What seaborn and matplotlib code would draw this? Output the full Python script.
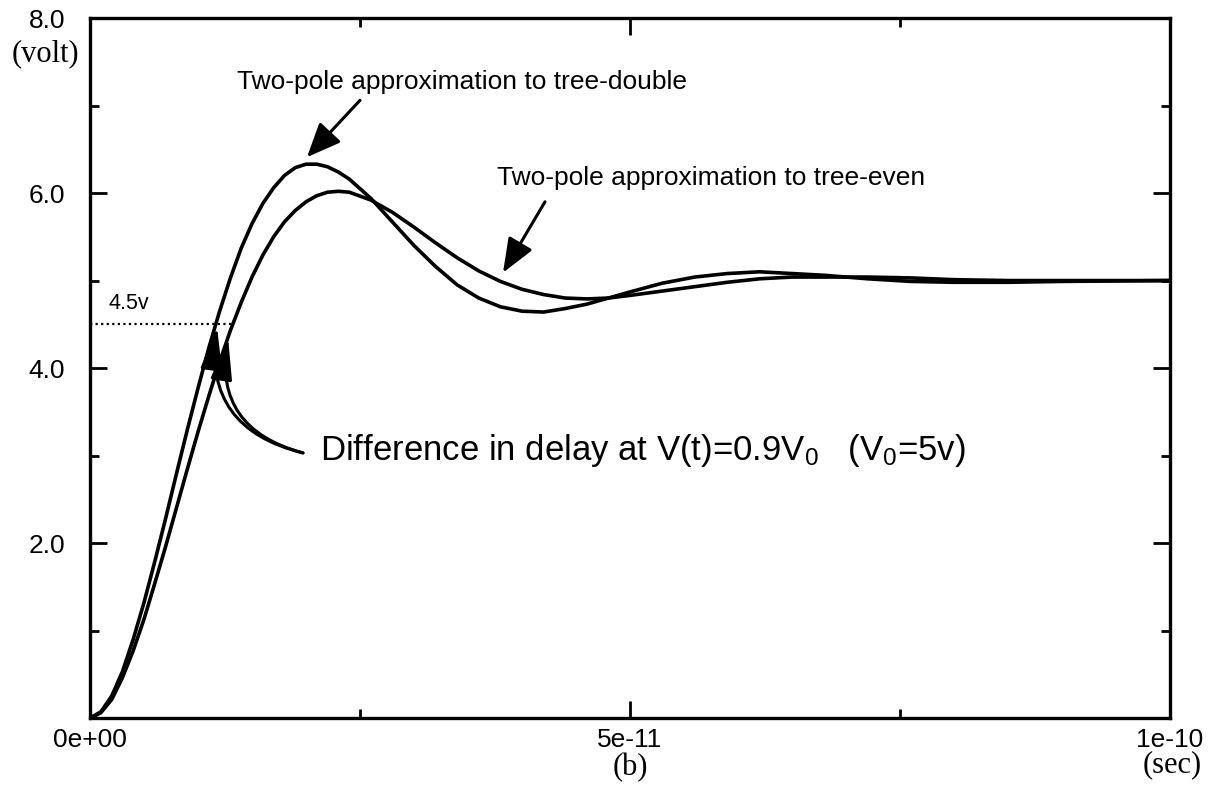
import pandas as pd
import matplotlib.pyplot as plt
import seaborn as sns
from matplotlib.ticker import MultipleLocator

sns.set_theme(style="ticks")
plt.rcParams["font.family"] = ["Liberation Sans", "DejaVu Sans"]
plt.rcParams["mathtext.fontset"] = "custom"
plt.rcParams["mathtext.rm"] = "Liberation Sans"
for key in ["text.color", "axes.labelcolor", "xtick.color", "ytick.color", "axes.edgecolor"]:
    plt.rcParams[key] = "black"

# time in units of 1e-11 s, voltage in volt
t_double = [0.0, 0.1, 0.2, 0.3, 0.4, 0.5, 0.6, 0.7, 0.8, 0.9, 1.0, 1.1, 1.2, 1.3,
            1.4, 1.5, 1.6, 1.7, 1.8, 1.9, 2.0, 2.1, 2.2, 2.3, 2.4, 2.6, 2.8, 3.0,
            3.2, 3.4, 3.6, 3.8, 4.0, 4.2, 4.4, 4.6, 4.8, 5.0, 5.3, 5.6, 5.9, 6.2,
            6.5, 6.8, 7.2, 7.6, 8.0, 8.5, 9.0, 10.0]
v_double = [0.00, 0.07, 0.25, 0.53, 0.90, 1.32, 1.79, 2.28, 2.79, 3.29, 3.77,
            4.23, 4.65, 5.03, 5.37, 5.65, 5.88, 6.06, 6.20, 6.29, 6.33, 6.33,
            6.30, 6.24, 6.16, 5.94, 5.67, 5.40, 5.16, 4.95, 4.80, 4.70, 4.65,
            4.64, 4.68, 4.73, 4.80, 4.87, 4.97, 5.04, 5.08, 5.10, 5.08, 5.06,
            5.02, 4.99, 4.98, 4.98, 4.99, 5.00]

t_even = [0.0, 0.1, 0.2, 0.3, 0.4, 0.5, 0.6, 0.7, 0.8, 0.9, 1.0, 1.1, 1.2, 1.3,
          1.4, 1.5, 1.6, 1.7, 1.8, 1.9, 2.0, 2.1, 2.2, 2.3, 2.4, 2.6, 2.8, 3.0,
          3.2, 3.4, 3.6, 3.8, 4.0, 4.2, 4.4, 4.6, 4.8, 5.0, 5.3, 5.6, 5.9, 6.2,
          6.5, 6.8, 7.2, 7.6, 8.0, 8.5, 9.0, 10.0]
v_even = [0.00, 0.06, 0.21, 0.46, 0.77, 1.13, 1.54, 1.96, 2.40, 2.84, 3.27,
          3.68, 4.07, 4.43, 4.75, 5.04, 5.29, 5.50, 5.67, 5.80, 5.90, 5.97,
          6.01, 6.02, 6.01, 5.92, 5.78, 5.61, 5.43, 5.26, 5.11, 4.99, 4.90,
          4.84, 4.80, 4.79, 4.80, 4.83, 4.88, 4.93, 4.98, 5.02, 5.04, 5.04,
          5.04, 5.03, 5.01, 5.00, 5.00, 5.00]

x_ticks = [0, 5e-11, 1e-10]
x_ticklabels = ["0e+00", "5e-11", "1e-10"]
y_ticks = [0, 2, 4, 6, 8]
y_ticklabels = ["", "2.0", "4.0", "6.0", "8.0"]

df = pd.concat([
    pd.DataFrame({"time": [t * 1e-11 for t in t_double], "volt": v_double, "curve": "tree-double"}),
    pd.DataFrame({"time": [t * 1e-11 for t in t_even], "volt": v_even, "curve": "tree-even"}),
])

fig = plt.figure(figsize=(12.18, 7.92), dpi=100)
ax = fig.add_axes([0.0739, 0.0934, 0.8867, 0.8838])

sns.lineplot(data=df, x="time", y="volt", hue="curve", palette=["black", "black"],
             linewidth=2.6, legend=False, errorbar=None, ax=ax)

ax.set_xlim(0, 1e-10)
ax.set_ylim(0, 8)
ax.set_xticks(x_ticks)
ax.set_xticklabels(x_ticklabels)
ax.set_yticks(y_ticks)
ax.set_yticklabels(y_ticklabels)
ax.xaxis.set_minor_locator(MultipleLocator(2.5e-11))
ax.yaxis.set_minor_locator(MultipleLocator(1))
ax.set_xlabel("")
ax.set_ylabel("")
ax.tick_params(which="both", direction="in", top=True, right=True, width=2)
ax.tick_params(which="major", length=12)
ax.tick_params(which="minor", length=6.5)
ax.tick_params(axis="x", labelsize=19, pad=7)
ax.tick_params(axis="y", labelsize=19, pad=18)
for sp in ax.spines.values():
    sp.set_linewidth(2.4)

serif = ["Liberation Serif", "DejaVu Serif"]
ax.text(-0.0417, 0.9486, "(volt)", transform=ax.transAxes, ha="center", va="center",
        fontsize=22, family=serif)
ax.text(1.002, -0.067, "(sec)", transform=ax.transAxes, ha="center", va="center",
        fontsize=22, family=serif)
ax.text(0.5, -0.071, "(b)", transform=ax.transAxes, ha="center", va="center",
        fontsize=22, family=serif)

# 0.9 V0 level
ax.plot([0, 1.315e-11], [4.5, 4.5], color="black", linestyle=(0, (1, 1.5)), linewidth=1.6)
ax.text(0.17e-11, 4.68, "4.5v", fontsize=15.5, ha="left", va="baseline")

# labels with straight arrows
ax.text(1.361e-11, 7.19, "Two-pole approximation to tree-double", fontsize=19,
        ha="left", va="baseline")
ax.annotate("", xy=(2.009e-11, 6.41), xytext=(2.5e-11, 7.06),
            arrowprops=dict(arrowstyle="-|>,head_length=1.05,head_width=0.45",
                            mutation_scale=20, lw=2.2, color="black",
                            shrinkA=0, shrinkB=0))
ax.text(3.769e-11, 6.09, "Two-pole approximation to tree-even", fontsize=19,
        ha="left", va="baseline")
ax.annotate("", xy=(3.824e-11, 5.09), xytext=(4.213e-11, 5.90),
            arrowprops=dict(arrowstyle="-|>,head_length=1.05,head_width=0.42",
                            mutation_scale=20, lw=2.2, color="black",
                            shrinkA=0, shrinkB=0))

# delay difference callout with curved arrows
ax.text(2.13e-11, 2.95,
        r"Difference in delay at V(t)=0.9$\mathregular{V_0}$   ($\mathregular{V_0}$=5v)",
        fontsize=25, ha="left", va="baseline")
for tip in [(1.176e-11, 4.47), (1.278e-11, 4.35)]:
    ax.annotate("", xy=tip, xytext=(1.972e-11, 3.03),
                arrowprops=dict(arrowstyle="-|>,head_length=1.3,head_width=0.33",
                                mutation_scale=20, lw=2.2, color="black",
                                connectionstyle="arc3,rad=-0.45",
                                shrinkA=0, shrinkB=0))

fig.savefig("out.png", dpi=100)
